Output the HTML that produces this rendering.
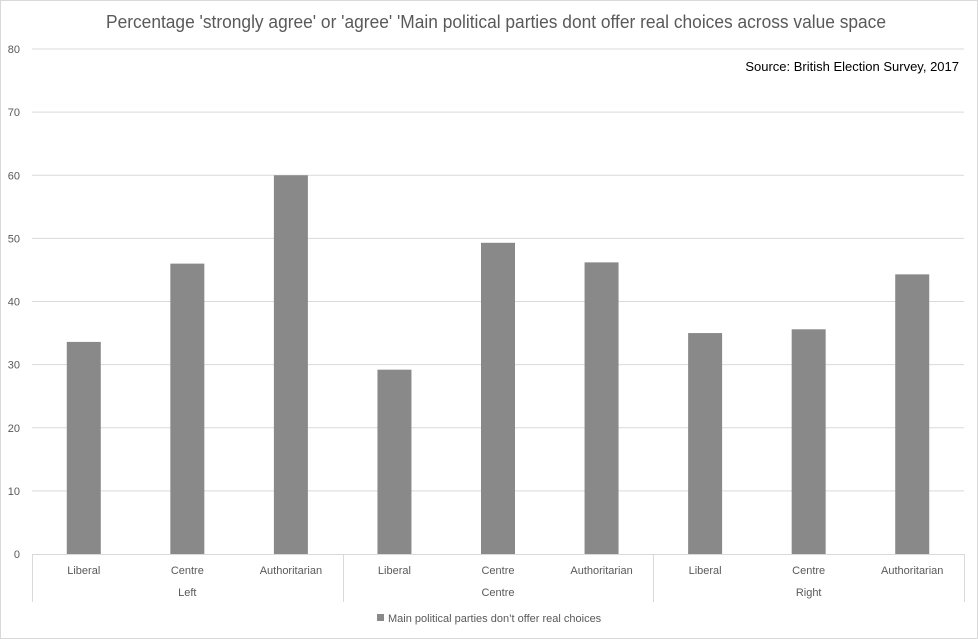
<!DOCTYPE html>
<html><head><meta charset="utf-8">
<style>
html,body{margin:0;padding:0;background:#fff;}
svg{display:block;font-family:"Liberation Sans",sans-serif;}
</style></head>
<body>
<svg id="chart" width="978" height="639" viewBox="0 0 978 639">
<rect x="0.5" y="0.5" width="977" height="638" fill="#fff" stroke="#d9d9d9"/>
<text x="106" y="28" textLength="780" lengthAdjust="spacingAndGlyphs" font-size="18" fill="#595959">Percentage 'strongly agree' or 'agree' 'Main political parties dont offer real choices across value space</text>
<text x="959" y="71" text-anchor="end" font-size="13" fill="#000">Source: British Election Survey, 2017</text>
<g id="grid"></g>
<g id="bars"></g>
<g id="xaxis"></g>
<rect x="377" y="614" width="7" height="7" fill="#898989"/>
<text x="388" y="622" font-size="11" fill="#595959">Main political parties don’t offer real choices</text>
</svg>
<script>
const categories = ["Liberal","Centre","Authoritarian","Liberal","Centre","Authoritarian","Liberal","Centre","Authoritarian"];
const groups = ["Left","Centre","Right"];
const values = [33.6, 46.0, 60.0, 29.2, 49.3, 46.2, 35.0, 35.6, 44.3];
const yTicks = [0,10,20,30,40,50,60,70,80];

const NS="http://www.w3.org/2000/svg";
const left=32, right=964, y0=554, yTop=49, yMax=80;
const y = v => y0 - v/yMax*(y0-yTop);
const band = (right-left)/categories.length;
const xc = i => left + band*(i+0.5);
function mk(tag, attrs, parent){const e=document.createElementNS(NS,tag);for(const k in attrs)e.setAttribute(k,attrs[k]);parent.appendChild(e);return e;}
const grid=document.getElementById('grid'), bars=document.getElementById('bars'), xa=document.getElementById('xaxis');
yTicks.forEach(t=>{
  if(t>0){const l=mk('line',{x1:left,x2:right,y1:y(t),y2:y(t),stroke:'#d9d9d9','stroke-width':1},grid);
  
  }
  const tx=mk('text',{x:20,y:y(t)+4,'text-anchor':'end','font-size':11,fill:'#595959'},grid);
  tx.textContent=t;
  
  
});
values.forEach((v,i)=>{
  const r=mk('rect',{x:xc(i)-17,y:y(v),width:34,height:y0-y(v),fill:'#898989'},bars);
  
  
  const t=mk('text',{x:xc(i),y:574,'text-anchor':'middle','font-size':11,fill:'#595959'},xa);
  t.textContent=categories[i];
  
  
});
const ax=mk('line',{x1:left,x2:right,y1:y0+0.5,y2:y0+0.5,stroke:'#d9d9d9'},xa);


for(let g=0; g<=groups.length; g++){
  const xx=Math.round(left+band*3*g)+0.5;
  const l=mk('line',{x1:xx,x2:xx,y1:y0,y2:602,stroke:'#d9d9d9'},xa);
  
  
}
groups.forEach((g,j)=>{
  const t=mk('text',{x:left+band*(3*j+1.5),y:596,'text-anchor':'middle','font-size':11,fill:'#595959'},xa);
  t.textContent=g;
  
  
});
</script>
</body></html>
